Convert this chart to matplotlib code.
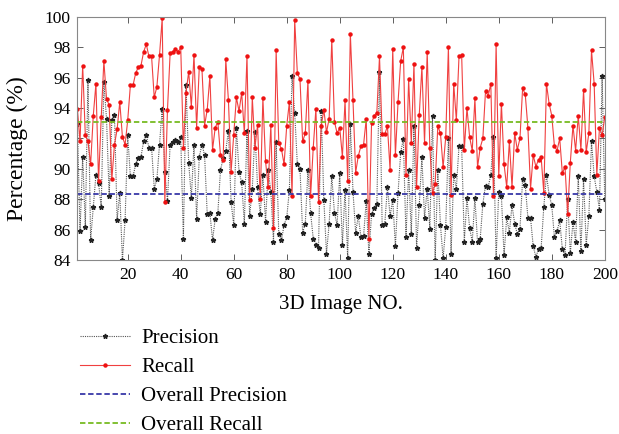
import numpy as np
import matplotlib.pyplot as plt

image_no = np.arange(1, 201)

precision = [
    92.96, 85.88, 90.8, 86.2, 95.86, 85.33, 87.5, 89.6, 89.06, 87.46,
    95.7, 93.3, 88.2, 93.2, 93.55, 86.64, 88.4, 84.0, 86.6, 92.2,
    89.5, 89.5, 90.3, 90.7, 90.8, 91.8, 92.2, 91.4, 91.4, 88.7,
    89.3, 91.6, 93.95, 89.8, 87.9, 91.6, 91.75, 91.9, 91.75, 92.1,
    85.4, 95.5, 90.4, 88.1, 91.6, 86.7, 90.8, 91.6, 90.9, 87.0,
    87.1, 85.3, 86.7, 87.1, 89.9, 90.7, 91.2, 92.5, 87.8, 86.3,
    92.7, 89.8, 89.1, 86.4, 92.5, 86.9, 88.7, 92.4, 88.8, 87.0,
    89.6, 86.5, 89.9, 88.5, 85.2, 91.75, 85.7, 85.3, 86.3, 86.8,
    88.6, 96.1, 93.7, 90.3, 90.0, 85.8, 86.4, 89.9, 87.1, 85.4,
    85.0, 84.8, 93.8, 87.96, 84.4, 86.4, 89.5, 87.1, 86.3, 89.7,
    85.0, 88.6, 84.1, 92.96, 88.5, 85.8, 86.9, 85.5, 85.6, 87.9,
    84.4, 87.0, 87.4, 87.7, 96.4, 86.3, 86.4, 88.8, 86.9, 87.96,
    84.9, 88.4, 91.1, 91.95, 85.5, 89.9, 85.7, 92.85, 84.8, 87.6,
    90.75, 86.75, 88.7, 86.05, 93.5, 84.0, 89.9, 86.3, 84.1, 86.2,
    92.0, 84.4, 89.6, 88.7, 91.5, 91.5, 85.2, 88.1, 86.1, 85.2,
    88.1, 85.15, 85.4, 87.7, 88.9, 88.8, 89.6, 92.1, 84.1, 88.5,
    88.2, 84.3, 86.8, 85.8, 87.6, 86.4, 85.7, 86.05, 89.3, 88.95,
    86.75, 86.75, 84.9, 84.2, 84.7, 84.8, 87.5, 89.6, 88.3, 87.6,
    85.5, 85.9, 86.6, 84.7, 84.3, 88.0, 84.45, 86.5, 85.2, 89.5,
    84.6, 89.3, 85.0, 86.9, 91.8, 89.5, 88.5, 87.3, 96.1, 88.0,
]

recall = [
    93.95, 91.8, 96.8, 92.2, 91.8, 90.3, 93.5, 95.6, 89.2, 93.4,
    97.1, 94.6, 94.2, 89.3, 91.6, 92.6, 94.4, 92.1, 91.6, 93.2,
    95.5, 95.5, 96.3, 96.7, 96.8, 97.7, 98.2, 97.4, 97.4, 94.7,
    95.4, 97.5, 99.9, 87.8, 93.9, 97.6, 97.7, 97.9, 97.7, 98.0,
    91.4, 95.0, 96.4, 94.1, 97.5, 92.7, 96.7, 96.6, 92.85, 93.9,
    96.1, 91.25, 92.7, 93.1, 90.9, 90.55, 97.2, 94.5, 89.8, 92.2,
    94.7, 93.8, 95.0, 92.35, 97.45, 87.96, 94.7, 91.4, 92.9, 88.0,
    94.65, 90.5, 88.8, 92.9, 86.1, 97.8, 91.7, 91.3, 90.3, 92.85,
    94.4, 88.2, 99.8, 96.3, 95.9, 91.8, 92.35, 95.8, 88.2, 91.4,
    93.95, 87.8, 92.8, 93.9, 92.4, 93.3, 98.5, 93.1, 92.35, 92.7,
    90.8, 94.5, 89.2, 98.9, 94.5, 89.75, 90.85, 91.5, 91.6, 93.3,
    85.4, 93.0, 93.5, 93.7, 97.4, 92.3, 92.3, 92.8, 89.9, 97.9,
    90.9, 94.4, 97.1, 98.0, 89.6, 95.9, 91.7, 96.9, 88.8, 93.55,
    96.7, 91.7, 97.7, 91.4, 88.4, 89.0, 92.8, 92.35, 90.1, 92.1,
    98.0, 88.3, 95.6, 93.2, 97.4, 97.5, 91.25, 94.0, 92.1, 91.2,
    94.65, 90.1, 91.4, 92.0, 95.1, 94.8, 95.6, 88.2, 98.2, 89.5,
    94.3, 90.3, 88.8, 91.8, 88.8, 92.35, 91.25, 92.0, 95.3, 94.9,
    92.7, 88.7, 90.9, 90.15, 90.6, 90.75, 88.4, 95.6, 94.3, 93.5,
    91.5, 91.2, 92.0, 89.7, 90.15, 87.0, 90.4, 92.85, 91.2, 93.5,
    91.25, 95.2, 91.1, 92.35, 97.8, 95.6, 89.6, 92.7, 92.2, 93.4,
]

overall_precision = 88.35
overall_recall = 93.1

plt.rcParams['font.family'] = ['Liberation Serif', 'DejaVu Serif']
plt.rcParams['font.size'] = 12.5

fig = plt.figure(figsize=(6.19, 4.34), dpi=100)
ax = fig.add_axes([0.125, 0.401, 0.852, 0.56])

ax.plot(image_no, precision, linestyle=(0, (1, 1)), color='#555555', linewidth=0.8,
        marker='*', markersize=3.5, markeredgecolor='#222222', markerfacecolor='#222222',
        label='Precision')
ax.plot(image_no, recall, '-', color='#f04040', linewidth=0.8,
        marker='o', markersize=2.2, markeredgecolor='#ee1111', markerfacecolor='#ee1111',
        label='Recall')
ax.axhline(overall_precision, color='#3838a8', linestyle='--', linewidth=1.3,
           dashes=(3, 1.5), label='Overall Precision')
ax.axhline(overall_recall, color='#77bb22', linestyle='--', linewidth=1.3,
           dashes=(3, 1.5), label='Overall Recall')

ax.set_xlim(1, 200)
ax.set_ylim(84, 100)
ax.set_xticks(np.arange(20, 201, 20))
ax.set_yticks(np.arange(84, 101, 2))
ax.tick_params(direction='in', top=True, right=True, length=4, width=0.6,
               color='#444444', pad=5)
for s in ax.spines.values():
    s.set_color('#888888')
    s.set_linewidth(0.8)

ax.set_xlabel('3D Image NO.', fontsize=15, labelpad=9)
ax.set_ylabel('Percentage (%)', fontsize=17)
ax.yaxis.set_label_coords(-0.094, 0.46)

leg = ax.legend(loc='upper left', bbox_to_anchor=(0.129, 0.243),
                bbox_transform=fig.transFigure, frameon=False, fontsize=15,
                handlelength=2.4, handletextpad=0.55, labelspacing=0.45,
                borderaxespad=0, borderpad=0)

fig.savefig('out.png', dpi=100)
